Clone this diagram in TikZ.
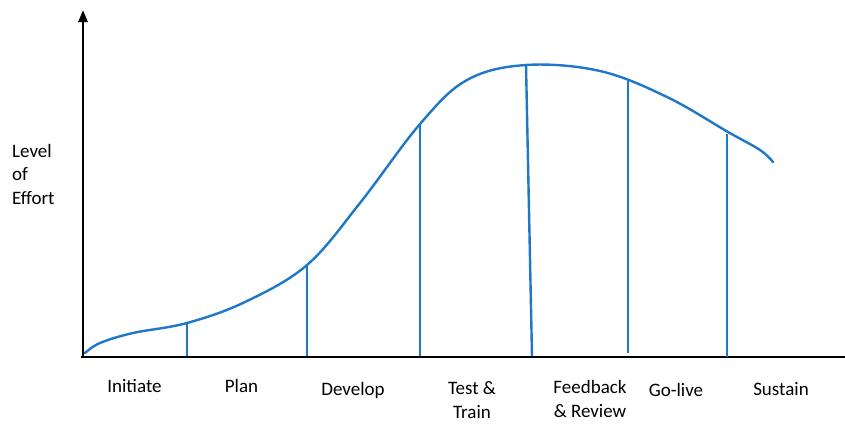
\documentclass[tikz,border=0pt]{standalone}
\usepackage{fontspec}
\setmainfont{Carlito}
\usetikzlibrary{arrows.meta}
\definecolor{curveblue}{RGB}{31,119,200}
\begin{document}
\begin{tikzpicture}[x=1pt, y=-1pt,
    axis/.style={line width=2.6pt, black},
    effort/.style={line width=2.4pt, curveblue},
    phase/.style={font=\fontsize{19}{23.5}\selectfont, align=center, anchor=base, inner sep=0pt},
  ]
    \useasboundingbox (0,0) rectangle (845,423);

    % Axes
    \coordinate (origin) at (83,357);
    \coordinate (ytop) at (83,10);
    \coordinate (xstart) at (81,357);
    \coordinate (xend) at (845,357);
    \draw[axis, -{Triangle[length=12pt, width=9pt]}] (origin) -- (ytop);
    \draw[axis] (xstart) -- (xend);

    % Effort curve
    \draw[effort, line cap=round] plot[smooth, tension=0.6] coordinates {
      (85,353) (100,343) (133,333) (187,323) (245,302)
      (307,265) (360,203) (420,124) (467,80)
      (526,65) (600,71) (667,97)
      (728,132) (760,150) (773,162)};

    % Phase dividers
    \coordinate (d1t) at (187,323);  \coordinate (d1b) at (187,356);
    \coordinate (d2t) at (307,265);  \coordinate (d2b) at (307,356);
    \coordinate (d3t) at (420,124);  \coordinate (d3b) at (420,356);
    \coordinate (d4t) at (526,65);   \coordinate (d4b) at (532,356);
    \coordinate (d5t) at (628,81);   \coordinate (d5b) at (628,353);
    \coordinate (d6t) at (727,134);  \coordinate (d6b) at (727,357);
    \foreach \i in {1,...,6}
      \draw[effort] (d\i t) -- (d\i b);

    % Axis label
    \node[font=\fontsize{19}{23.5}\selectfont, align=left, anchor=base west, inner sep=0pt]
      (effortlbl) at (12,204) {Level\\of\\Effort};

    % Phases
    \node[phase] (initiate) at (134.5,392) {Initiate};
    \node[phase] (plan) at (241.5,392) {Plan};
    \node[phase] (develop) at (353,395) {Develop};
    \node[phase] (testtrain) at (472,418) {Test \&\\Train};
    \node[phase] (feedback) at (590,417) {Feedback\\\& Review};
    \node[phase] (golive) at (676,396) {Go-live};
    \node[phase] (sustain) at (781,395) {Sustain};
\end{tikzpicture}
\end{document}
